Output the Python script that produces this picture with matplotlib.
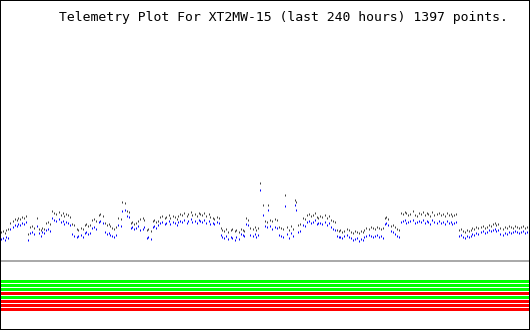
import numpy as np
import matplotlib
matplotlib.use('Agg')
import matplotlib.pyplot as plt

title = "Telemetry Plot For XT2MW-15 (last 240 hours) 1397 points."

# readings, one every ~0.9 hour, oldest first
chan_a = [28, 29, 27, 30, 31, 37, 39, 41, 40, 42,
          41, 43, 42, 44, 26, 33, 34, 32, 42, 31,
          30, 32, 31, 37, 38, 36, 49, 47, 46, 48,
          45, 47, 44, 46, 45, 43, 36, 35, 31, 30,
          32, 31, 35, 36, 34, 35, 40, 41, 39, 45,
          46, 44, 37, 35, 36, 34, 32, 31, 33, 42,
          41, 58, 57, 49, 48, 37, 38, 36, 37, 39,
          41, 42, 40, 30, 31, 29, 39, 40, 38, 39,
          43, 44, 42, 43, 45, 42, 44, 43, 41, 44,
          46, 45, 47, 44, 46, 48, 45, 46, 44, 47,
          46, 45, 47, 44, 46, 43, 42, 41, 43, 42,
          32, 30, 29, 31, 28, 30, 31, 29, 30, 28,
          31, 30, 29, 42, 40, 32, 31, 33, 30, 32,
          77, 55, 39, 38, 55, 40, 39, 41, 40, 33,
          32, 31, 65, 33, 30, 34, 31, 60, 58, 35,
          36, 42, 41, 45, 46, 44, 45, 47, 43, 42,
          44, 43, 45, 42, 44, 40, 39, 38, 30, 29,
          30, 28, 29, 31, 30, 28, 27, 29, 28, 27,
          29, 28, 30, 32, 31, 33, 32, 31, 33, 32,
          31, 32, 42, 43, 41, 34, 35, 33, 31, 30,
          47, 46, 48, 47, 45, 46, 49, 45, 44, 47,
          46, 48, 45, 47, 46, 44, 48, 45, 46, 47,
          45, 46, 44, 47, 45, 46, 44, 45, 46, 30,
          31, 29, 28, 30, 29, 30, 32, 31, 33, 32,
          33, 34, 32, 33, 35, 34, 36, 37, 35, 36,
          32, 31, 33, 32, 34, 33, 32, 34, 33, 32,
          33, 34, 32, 33, 34]

chan_b = [21, 22, 20, 23, 22, 31, 33, 35, 34, 36,
          35, 37, 36, 38, 20, 27, 28, 26, 34, 27,
          24, 28, 27, 30, 31, 29, 42, 40, 39, 41,
          38, 39, 36, 38, 37, 35, 26, 24, 23, 24,
          25, 23, 27, 28, 26, 27, 32, 33, 31, 38,
          39, 37, 28, 26, 27, 25, 24, 23, 25, 35,
          34, 49, 50, 44, 43, 32, 33, 31, 32, 34,
          30, 31, 33, 22, 23, 21, 33, 34, 32, 35,
          37, 38, 36, 37, 39, 36, 38, 37, 35, 38,
          39, 38, 40, 37, 39, 41, 38, 39, 37, 40,
          39, 38, 40, 37, 39, 36, 37, 36, 38, 37,
          25, 23, 22, 24, 21, 23, 22, 20, 23, 21,
          26, 25, 24, 36, 35, 25, 24, 26, 23, 25,
          70, 45, 34, 33, 50, 34, 31, 33, 32, 25,
          24, 23, 54, 26, 22, 27, 24, 55, 50, 28,
          29, 35, 34, 38, 39, 37, 38, 40, 36, 37,
          37, 36, 38, 35, 37, 33, 31, 30, 24, 23,
          23, 22, 24, 25, 23, 22, 20, 21, 22, 19,
          21, 20, 23, 24, 25, 24, 23, 24, 25, 23,
          24, 22, 36, 37, 35, 29, 28, 26, 24, 23,
          38, 39, 40, 37, 38, 39, 40, 37, 38, 39,
          38, 40, 37, 39, 38, 36, 40, 38, 37, 39,
          37, 38, 36, 39, 37, 38, 36, 37, 38, 24,
          25, 23, 22, 24, 23, 24, 26, 25, 27, 26,
          28, 29, 27, 28, 30, 29, 30, 31, 29, 30,
          26, 25, 27, 26, 28, 27, 28, 29, 28, 27,
          28, 29, 27, 28, 29]

# status bits, top to bottom (1 = ok/green, 0 = fault/red)
status = [1, 1, 1, 0, 1, 0, 0, 0]

hours = np.linspace(-240, 0, len(chan_a))
px = 240 / 528.0

fig = plt.figure(figsize=(5.3, 3.3), dpi=100)
ax = fig.add_axes([0, 0, 1, 1])
ax.set_xlim(hours[0] - 0.5 * px, hours[-1] + 1.5 * px)
ax.set_ylim(-70, 260)

# baseline
ax.axhspan(-2, 0, color='#aaaaaa', lw=0, antialiased=False)

# status bars
for i, s in enumerate(status):
    col = '#00ff00' if s else '#ff0000'
    ax.axhspan(-(23 + 4 * i), -(20 + 4 * i), color=col, lw=0, antialiased=False)

ax.plot(hours, chan_a, ls='none', marker='|', ms=1.44, mew=0.72,
        color='#404040', antialiased=False)
ax.plot(hours, chan_b, ls='none', marker='|', ms=1.44, mew=0.72,
        color='#0000ff', antialiased=False)

ax.set_xticks([])
ax.set_yticks([])
for sp in ax.spines.values():
    sp.set_linewidth(1.44)
    sp.set_color('black')

fig.text(59 / 530.0, 1 - 17 / 330.0, title, family='DejaVu Sans Mono',
         fontsize=9.45, ha='left', va='center', color='black')

fig.savefig('out.png', dpi=100)
